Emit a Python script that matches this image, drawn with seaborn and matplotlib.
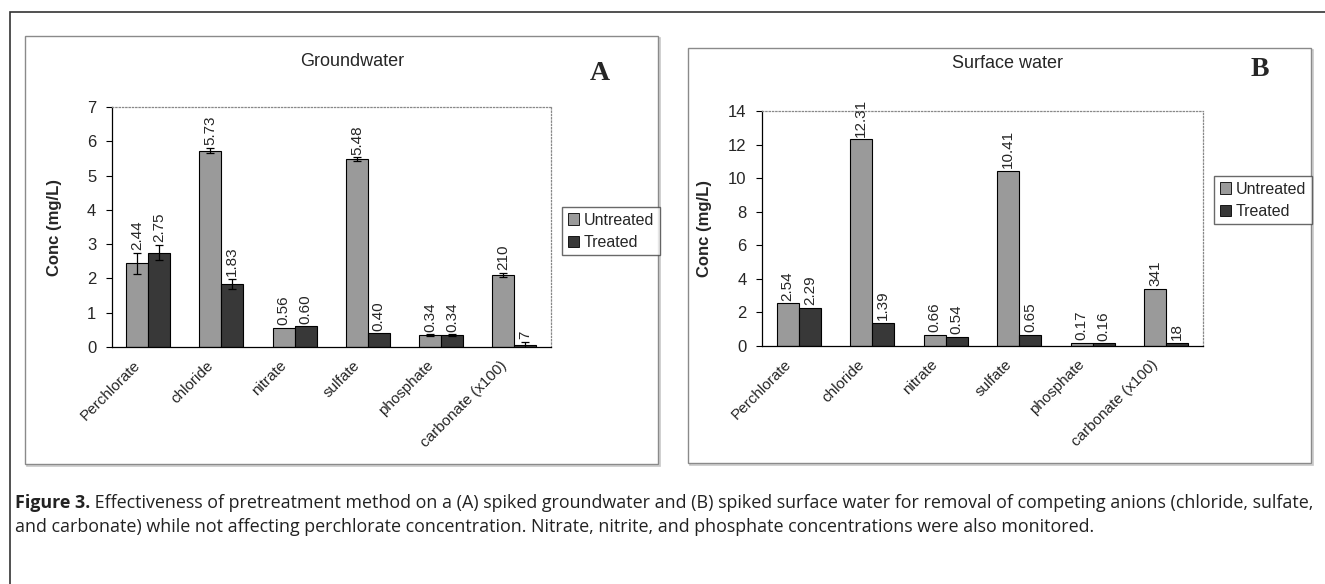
import numpy as np
import pandas as pd
import seaborn as sns
import matplotlib.pyplot as plt
import matplotlib.transforms as mtransforms
from matplotlib.patches import Rectangle, Patch

# Dados
anions = ['Perchlorate', 'chloride', 'nitrate', 'sulfate', 'phosphate', 'carbonate (x100)']
ground_untreated = [2.44, 5.73, 0.56, 5.48, 0.34, 2.10]
ground_treated = [2.75, 1.83, 0.60, 0.40, 0.34, 0.07]
ground_err_untreated = [0.30, 0.08, 0.0, 0.05, 0.03, 0.07]
ground_err_treated = [0.22, 0.15, 0.0, 0.0, 0.03, 0.09]
surface_untreated = [2.54, 12.31, 0.66, 10.41, 0.17, 3.41]
surface_treated = [2.29, 1.39, 0.54, 0.65, 0.16, 0.18]
conditions = ['Untreated', 'Treated']

sns.set_style('white')
plt.rcParams['font.family'] = ['Liberation Sans', 'DejaVu Sans']

W, H = 1325, 584
cores = {'Untreated': '#9a9a9a', 'Treated': '#383838'}


def fx(px):
    return px / W


def fy(py):
    return 1 - py / H


def fmt(i, v):
    # carbonate is shown x100
    if i == 5:
        return f'{v * 100:.0f}'
    return f'{v:.2f}'


def painel(ax, untreated, treated, errs, ymax, ystep, title, letter, title_xy, letter_xy, leg_xy):
    df = pd.DataFrame({
        'anion': anions * 2,
        'conc': untreated + treated,
        'cond': ['Untreated'] * len(anions) + ['Treated'] * len(anions),
    })
    sns.barplot(data=df, x='anion', y='conc', hue='cond', hue_order=conditions,
                palette=cores, width=0.6, edgecolor='black', linewidth=0.8,
                errorbar=None, legend=False, ax=ax)

    barras = list(ax.containers[:2])
    for k, cont in enumerate(barras):
        vals = untreated if k == 0 else treated
        e = errs[k] if errs is not None else [0] * len(vals)
        xs = [b.get_x() + b.get_width() / 2 for b in cont]
        has = [i for i in range(len(vals)) if e[i] > 0]
        if has:
            ax.errorbar([xs[i] for i in has], [vals[i] for i in has],
                        yerr=[e[i] for i in has], fmt='none', ecolor='black',
                        elinewidth=0.9, capsize=3, capthick=0.9, zorder=5)
        for i, (x, v) in enumerate(zip(xs, vals)):
            ax.annotate(fmt(i, v), (x, v + e[i]), xytext=(0, 2), textcoords='offset points',
                        rotation=90, ha='center', va='bottom', fontsize=11,
                        annotation_clip=False)

    ax.set_xlim(-0.5, len(anions) - 0.5)
    ax.set_ylim(0, ymax)
    ax.set_yticks(np.arange(0, ymax + 0.01, ystep))
    ax.set_yticklabels([f'{t:g}' for t in np.arange(0, ymax + 0.01, ystep)], fontsize=12)
    ax.set_xticks(range(len(anions)))
    ax.set_xticklabels(anions, rotation=45, ha='right', rotation_mode='anchor', fontsize=11)
    ax.set_xticks(np.arange(-0.5, len(anions)), minor=True)
    ax.tick_params(axis='x', which='major', length=0, pad=8)
    ax.tick_params(axis='x', which='minor', length=5, direction='out', width=0.8, color='black')
    ax.tick_params(axis='y', length=4, direction='out', width=0.8, color='black', left=True, pad=7)
    # rótulos diagonais um pouco à esquerda, como no Excel
    shift = mtransforms.ScaledTranslation(-0.15, 0, fig.dpi_scale_trans)
    for lab in ax.get_xticklabels():
        lab.set_transform(lab.get_transform() + shift)
    ax.set_xlabel('')
    ax.set_ylabel('Conc (mg/L)', fontsize=12, fontweight='bold')
    ax.yaxis.set_label_coords(-0.113, 0.5)

    for s in ['left', 'bottom']:
        ax.spines[s].set_color('black')
        ax.spines[s].set_linewidth(0.9)
    for s in ['top', 'right']:
        ax.spines[s].set_color('#888888')
        ax.spines[s].set_linestyle(':')
        ax.spines[s].set_linewidth(0.9)

    fig.text(fx(title_xy[0]), fy(title_xy[1]), title, ha='center', va='center', fontsize=13)
    fig.text(fx(letter_xy[0]), fy(letter_xy[1]), letter, ha='center', va='center', fontsize=20,
             fontweight='bold', family=['Liberation Serif', 'DejaVu Serif'])

    handles = [Patch(facecolor=cores[c], edgecolor='black', linewidth=0.6, label=c) for c in conditions]
    ax.legend(handles=handles, loc='upper left', bbox_to_anchor=(fx(leg_xy[0]), fy(leg_xy[1])),
              bbox_transform=fig.transFigure, fontsize=11.5, frameon=True, fancybox=False,
              edgecolor='#444444', handlelength=0.7, handleheight=0.7, handletextpad=0.3,
              borderpad=0.35, labelspacing=0.45, borderaxespad=0)


def caixa(x0, y0, x1, y1):
    # sombra leve + borda cinza, atrás dos eixos
    fig.add_artist(Rectangle((fx(x0 + 2), fy(y1 + 2)), fx(x1) - fx(x0), fy(y0) - fy(y1),
                             transform=fig.transFigure, fill=False, edgecolor='#c8c8c8',
                             linewidth=1.2, zorder=-10))
    fig.add_artist(Rectangle((fx(x0), fy(y1)), fx(x1) - fx(x0), fy(y0) - fy(y1),
                             transform=fig.transFigure, facecolor='white', edgecolor='#8a8a8a',
                             linewidth=1.0, zorder=-9))


fig = plt.figure(figsize=(W / 100, H / 100), dpi=100)

# moldura externa e caixas dos painéis
fig.add_artist(Rectangle((fx(10), fy(600)), fx(1330) - fx(10), fy(12) - fy(600),
                         transform=fig.transFigure, fill=False, edgecolor='#333333',
                         linewidth=1.2, zorder=-11))
caixa(25, 36, 658, 464)
caixa(688, 48, 1311, 463)

axA = fig.add_axes([fx(111.5), fy(347), fx(551) - fx(111.5), fy(107) - fy(347)])
axB = fig.add_axes([fx(762), fy(346), fx(1203) - fx(762), fy(111) - fy(346)])

painel(axA, ground_untreated, ground_treated, [ground_err_untreated, ground_err_treated],
       7, 1, 'Groundwater', 'A', (352, 61), (600, 73), (562, 207))
painel(axB, surface_untreated, surface_treated, None,
       14, 2, 'Surface water', 'B', (1008, 64), (1260, 70), (1214, 176))

# legenda da figura
cap_font = ['Open Sans', 'DejaVu Sans']
line1 = [('Figure 3.', 'bold'),
         (' Effectiveness of pretreatment method on a (A) spiked groundwater and (B) spiked surface '
          'water for removal of competing anions (chloride, sulfate,', 'normal')]
line2 = [('and carbonate) while not affecting perchlorate concentration. Nitrate, nitrite, and '
          'phosphate concentrations were also monitored.', 'normal')]

renderer = fig.canvas.get_renderer()


def write_line(parts, ybase, size):
    x = fx(15)
    arts = []
    for txt, w in parts:
        t = fig.text(x, fy(ybase), txt, fontsize=size, fontweight=w, family=cap_font,
                     va='baseline', ha='left', color='#222222')
        bb = t.get_window_extent(renderer)
        x = bb.x1 / W
        arts.append(t)
    return arts, x * W - 15


arts, width = write_line(line1, 508, 10)
for a in arts:
    a.remove()
size = 10 * 1298 / width
write_line(line1, 508, size)
write_line(line2, 532, size)

fig.savefig('out.png', dpi=100, facecolor='white')
